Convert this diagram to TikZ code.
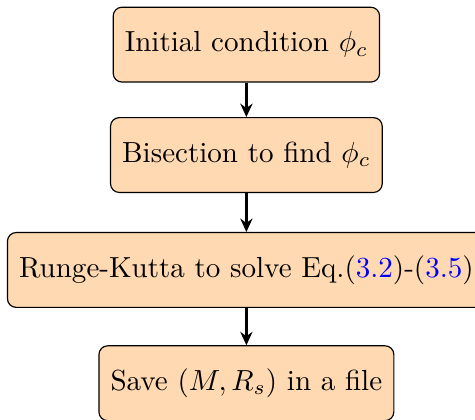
\documentclass[tikz,border=0pt]{standalone}
\usepackage{tikz}
\usetikzlibrary{arrows.meta, positioning}

\begin{document}
\begin{tikzpicture}[
    box/.style={draw, rectangle, rounded corners=3pt, minimum height=0.905cm, inner xsep=4pt, align=center, fill=orange!30, draw=black},
    arrow/.style={-{Stealth[length=4.6pt, width=4.2pt, inset=1.5pt]}, thick, draw=black}
]
\useasboundingbox (0,0) rectangle (5.745,-5.07);
\clip (0,0) rectangle (5.745,-5.07);

% Step 1: initial guess
\node[box] (init) at (2.98,-0.54) {Initial condition $\phi_c$};

% Step 2: bisection
\node[box] (bisect) at (2.98,-1.875) {Bisection to find $\phi_c$};

% Step 3: integration
\node[box] (rk) at (2.98,-3.265) {Runge-Kutta to solve Eq.(\textcolor{blue}{3.2})-(\textcolor{blue}{3.5})};

% Step 4: output
\node[box] (save) at (2.98,-4.635) {Save $(M,R_s)$ in a file};

% Connections
\draw[arrow] (init) -- (bisect);
\draw[arrow] (bisect) -- (rk);
\draw[arrow] (rk) -- (save);

\end{tikzpicture}
\end{document}
